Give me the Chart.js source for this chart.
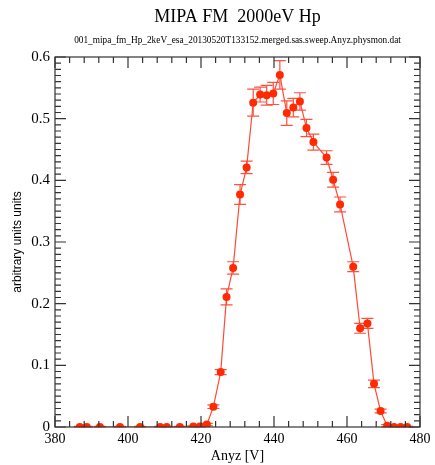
<!DOCTYPE html>
<html>
<head>
<meta charset="utf-8">
<script src="https://cdn.jsdelivr.net/npm/chart.js@4"></script>
<style>
  html, body { margin: 0; padding: 0; background: #fff; }
  #wrap { width: 435px; height: 465px; }
</style>
</head>
<body>
<div id="wrap"><canvas id="anyzChart" width="435" height="465"></canvas></div>
<script>
/*=========================================
DATA
=========================================*/

const chartTitle = "MIPA FM  2000eV Hp";
const chartSubtitle = "001_mipa_fm_Hp_2keV_esa_20130520T133152.merged.sas.sweep.Anyz.physmon.dat";

const anyzValues = [
  386.8, 388.7, 392.3, 397.8, 403.3, 408.8, 410.6, 414.2, 417.9, 419.7,
  421.6, 423.4, 425.4, 427.0, 428.8, 430.7, 432.5, 434.3, 436.2, 438.0,
  439.8, 441.6, 443.5, 445.3, 447.1, 448.9, 450.8, 454.4, 456.2, 458.1,
  461.7, 463.6, 465.6, 467.4, 469.2, 471.0, 472.9, 474.7, 476.5
];

const signalValues = [
  0, 0, 0, 0, 0, 0, 0, 0, 0.001, 0.001,
  0.004, 0.033, 0.089, 0.211, 0.258, 0.377, 0.421, 0.526, 0.539, 0.538,
  0.541, 0.571, 0.509, 0.518, 0.528, 0.485, 0.462, 0.437, 0.401, 0.361,
  0.260, 0.160, 0.168, 0.070, 0.026, 0.002, 0, 0, 0
];

const signalErrors = [
  0.001, 0.001, 0.001, 0.001, 0.001, 0.001, 0.001, 0.001, 0.001, 0.001,
  0.002, 0.003, 0.004, 0.013, 0.010, 0.016, 0.010, 0.022, 0.012, 0.016,
  0.018, 0.023, 0.020, 0.015, 0.014, 0.014, 0.013, 0.011, 0.012, 0.012,
  0.008, 0.008, 0.008, 0.006, 0.003, 0.002, 0.001, 0.001, 0.001
];

const xTickValues = [380, 400, 420, 440, 460, 480];
const yTickValues = [0, 0.1, 0.2, 0.3, 0.4, 0.5, 0.6];

const serif = "'Liberation Serif', 'Times New Roman', serif";

/*=========================================
PLUGINS
=========================================*/

// titles centred over the plot box, like the IDL original
const plotTitles = {
  id: "plotTitles",
  afterDraw(chart) {
    const { ctx, chartArea: a } = chart;
    const cx = (a.left + a.right) / 2;
    ctx.save();
    ctx.fillStyle = "#000";
    ctx.textAlign = "center";
    ctx.textBaseline = "middle";
    ctx.font = "18px " + serif;
    ctx.fillText(chartTitle, cx, 17);
    ctx.font = "9.3px " + serif;
    ctx.fillText(chartSubtitle, cx, 41);
    ctx.restore();
  }
};

const errorBars = {
  id: "errorBars",
  beforeDatasetsDraw(chart) {
    const { ctx, scales: { x, y } } = chart;
    ctx.save();
    ctx.strokeStyle = "#ff5040";
    ctx.lineWidth = 1.2;
    signalValues.forEach((v, i) => {
      const px = x.getPixelForValue(anyzValues[i]);
      const top = y.getPixelForValue(v + signalErrors[i]);
      const bot = y.getPixelForValue(Math.max(0, v - signalErrors[i]));
      ctx.beginPath();
      ctx.moveTo(px, top); ctx.lineTo(px, bot);
      ctx.moveTo(px - 6, top); ctx.lineTo(px + 6, top);
      ctx.moveTo(px - 6, bot); ctx.lineTo(px + 6, bot);
      ctx.stroke();
    });
    ctx.restore();
  }
};

const frameTicks = {
  id: "frameTicks",
  afterDraw(chart) {
    const { ctx, chartArea: a, scales: { x, y } } = chart;
    ctx.save();
    ctx.strokeStyle = "#333";
    ctx.lineWidth = 1.2;
    ctx.strokeRect(a.left, a.top, a.right - a.left, a.bottom - a.top);
    ctx.beginPath();
    for (let v = 380; v <= 480; v += 4) {
      const px = x.getPixelForValue(v);
      const len = v % 20 === 0 ? 11 : 6;
      ctx.moveTo(px, a.bottom); ctx.lineTo(px, a.bottom - len);
      ctx.moveTo(px, a.top); ctx.lineTo(px, a.top + len);
    }
    for (let k = 0; k <= 60; k++) {
      const py = y.getPixelForValue(k / 100);
      const len = k % 10 === 0 ? 11 : 6;
      ctx.moveTo(a.left, py); ctx.lineTo(a.left + len, py);
      ctx.moveTo(a.right, py); ctx.lineTo(a.right - len, py);
    }
    ctx.stroke();
    ctx.restore();
  }
};

/*=========================================
CHART
=========================================*/

new Chart(document.getElementById("anyzChart"), {
  type: "scatter",
  data: {
    datasets: [{
      data: anyzValues.map((v, i) => ({ x: v, y: signalValues[i] })),
      showLine: true,
      borderColor: "#ff4a38",
      borderWidth: 1.2,
      pointBackgroundColor: "#ff2a00",
      pointBorderColor: "#ff2a00",
      pointRadius: 4,
      pointBorderWidth: 0
    }]
  },
  options: {
    responsive: false,
    animation: false,
    layout: { padding: { left: 0, right: 15, top: 57, bottom: 0 } },
    plugins: {
      legend: { display: false },
      tooltip: { enabled: false },
      title: { display: false }
    },
    scales: {
      x: {
        type: "linear",
        min: 380,
        max: 480,
        afterBuildTicks: s => { s.ticks = xTickValues.map(v => ({ value: v })); },
        afterFit: s => { s.height = 38; },
        grid: { display: false, drawTicks: false },
        border: { display: false },
        ticks: { color: "#000", font: { family: serif, size: 14 }, padding: 4, maxRotation: 0 },
        title: {
          display: true,
          text: "Anyz [V]",
          color: "#000",
          font: { family: serif, size: 14 },
          padding: { top: 0, bottom: 0 }
        }
      },
      y: {
        min: 0,
        max: 0.6,
        afterBuildTicks: s => { s.ticks = yTickValues.map(v => ({ value: v })); },
        afterFit: s => { s.width = 55; },
        grid: { display: false, drawTicks: false },
        border: { display: false },
        ticks: {
          color: "#000",
          font: { family: serif, size: 15 },
          padding: 5,
          callback: v => v === 0 ? "0" : v.toFixed(1)
        },
        title: {
          display: true,
          text: "arbitrary units units",
          color: "#000",
          font: { family: "'Liberation Sans', Arial, sans-serif", size: 12 },
          padding: { top: 10, bottom: 0 }
        }
      }
    }
  },
  plugins: [errorBars, frameTicks, plotTitles]
});
</script>
</body>
</html>
